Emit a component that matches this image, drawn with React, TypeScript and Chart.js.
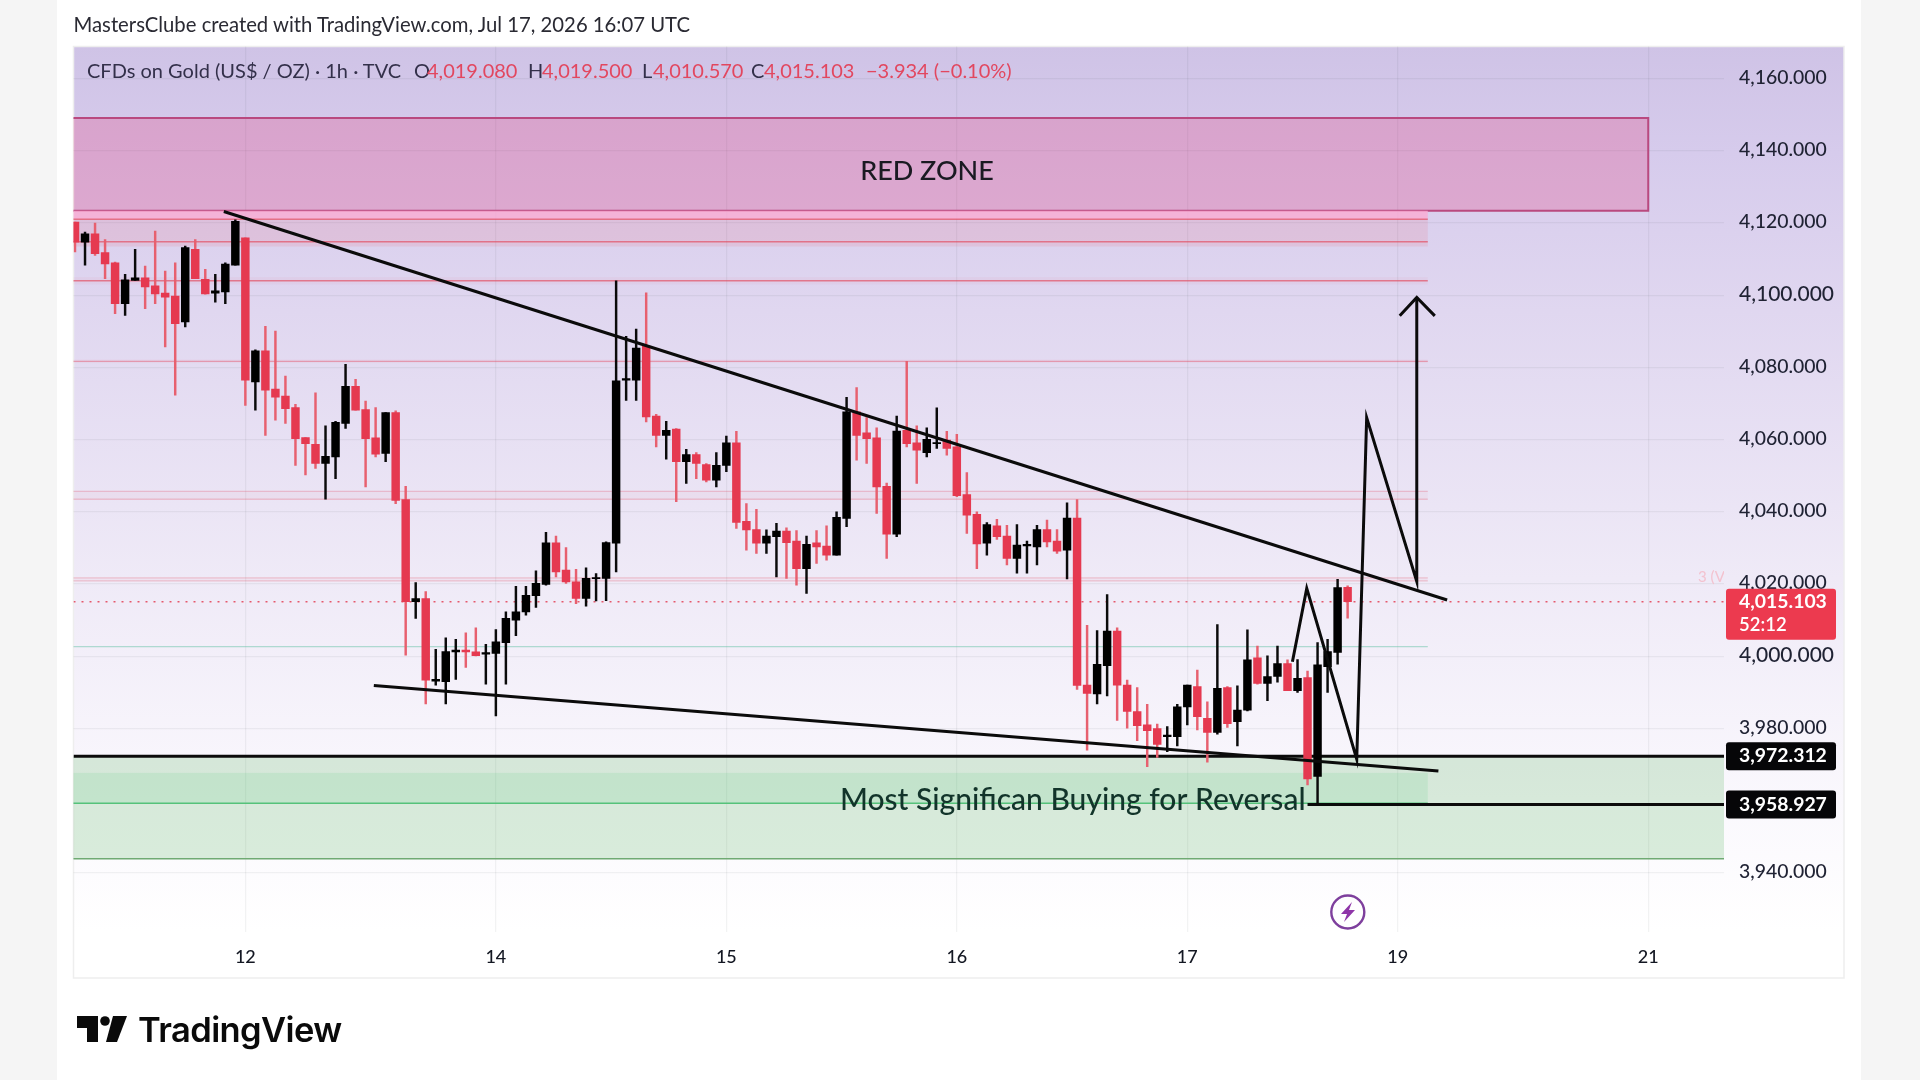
import React, { useEffect, useRef } from "react";
import { Chart, registerables } from "chart.js";

Chart.register(...registerables);

// ---------- data ----------
const opens = [
  4120.3,4114.7,4117.0,4111.8,4109.0,4097.7,4104.1,4104.8,4102.6,4100.6,
  4099.8,4092.6,4112.7,4104.4,4100.6,4100.9,4108.3,4115.9,4076.0,4084.6,
  4074.0,4072.1,4068.9,4060.6,4058.7,4053.4,4055.2,4064.5,4074.8,4068.3,
  4060.5,4056.2,4067.5,4043.4,4015.1,4016.0,3993.1,3993.0,4001.2,4001.7,
  4001.2,4000.6,4000.8,4003.8,4010.0,4012.3,4016.8,4019.9,4031.4,4023.9,
  4020.6,4016.0,4021.5,4021.6,4031.3,4076.5,4076.5,4085.9,4066.5,4061.2,
  4062.9,4053.9,4055.9,4053.1,4048.8,4052.9,4059.1,4037.4,4035.1,4031.3,
  4033.1,4034.7,4031.9,4024.3,4031.4,4030.5,4028.0,4038.2,4067.7,4061.9,
  4060.5,4047.1,4033.8,4062.6,4059.1,4056.4,4058.9,4059.9,4058.0,4044.8,
  4039.3,4031.3,4036.1,4033.3,4027.1,4030.6,4030.3,4035.1,4031.9,4029.4,
  4038.3,3992.0,3989.6,3997.4,4007.0,3992.0,3984.7,3981.0,3980.0,3977.7,
  3977.7,3986.0,3991.6,3982.8,3978.9,3991.3,3981.9,3985.1,3999.6,3992.5,
  3994.4,3998.0,3990.5,3994.1,3966.7,3997.1,4001.1,4019.08,
];
const closes = [
  4114.7,4117.0,4111.5,4108.7,4097.7,4104.3,4104.8,4102.3,4100.4,4099.5,
  4092.1,4113.2,4104.6,4100.4,4101.2,4108.6,4120.5,4076.5,4084.6,4073.7,
  4071.8,4068.6,4060.3,4058.9,4053.4,4055.4,4064.8,4074.8,4068.2,4060.3,
  4056.0,4067.5,4043.2,4015.1,4016.0,3993.4,3993.6,4001.3,4001.7,4001.2,
  4000.2,4001.0,4004.0,4010.5,4012.3,4016.9,4020.2,4031.4,4023.4,4020.6,
  4016.0,4021.6,4021.8,4031.5,4076.3,4076.9,4085.4,4066.3,4061.2,4062.6,
  4053.9,4055.9,4053.4,4048.8,4052.9,4059.1,4037.1,4035.0,4031.3,4033.3,
  4034.7,4031.5,4024.3,4031.0,4030.3,4028.0,4038.5,4067.7,4061.2,4060.3,
  4046.9,4033.8,4062.4,4058.9,4057.1,4060.1,4059.2,4057.6,4044.5,4039.1,
  4031.1,4036.5,4033.1,4027.1,4030.8,4031.0,4035.1,4031.7,4029.1,4038.3,
  3991.9,3989.7,3997.8,4007.0,3992.0,3984.7,3980.8,3979.4,3975.6,3978.2,
  3986.0,3992.0,3983.3,3978.9,3991.1,3981.3,3985.1,3999.0,3992.5,3994.4,
  3998.0,3990.5,3993.9,3966.0,3997.6,4001.3,4019.0,4015.103,
];
const highs = [
  4120.3,4117.5,4120.0,4115.4,4109.2,4105.8,4112.7,4108.1,4117.8,4106.7,
  4109.0,4113.6,4115.4,4107.2,4105.8,4109.0,4120.9,4115.9,4084.9,4091.4,
  4090.1,4077.6,4069.8,4060.6,4073.0,4063.8,4065.1,4080.9,4076.7,4070.7,
  4068.9,4067.5,4068.0,4047.1,4020.4,4017.9,4001.9,4005.1,4004.7,4006.5,
  4007.9,4003.3,4007.4,4012.3,4019.4,4019.4,4023.7,4034.3,4033.3,4030.1,
  4024.1,4024.5,4022.9,4031.7,4104.0,4088.6,4090.6,4100.7,4067.0,4065.1,
  4063.1,4057.3,4056.4,4053.4,4056.4,4061.0,4062.3,4042.3,4040.7,4035.0,
  4036.8,4035.6,4034.8,4033.3,4034.8,4036.1,4040.0,4071.7,4074.4,4066.1,
  4063.3,4048.0,4066.5,4081.7,4063.8,4063.3,4068.8,4062.3,4061.5,4050.9,
  4040.0,4037.0,4037.9,4036.3,4036.5,4031.9,4036.3,4037.7,4035.1,4042.5,
  4043.4,4008.6,4007.1,4017.1,4007.9,3993.4,3991.3,3986.7,3981.2,3980.5,
  3986.7,3992.0,3996.2,3987.4,4008.8,3991.6,3991.8,4007.3,4002.8,4000.1,
  4002.8,3999.0,3999.1,3995.9,4003.8,4004.7,4021.3,4019.5,
];
const lows = [
  4112.0,4108.3,4111.0,4104.6,4094.9,4094.4,4104.1,4096.3,4097.7,4085.7,
  4072.3,4091.2,4104.6,4100.3,4098.1,4097.7,4108.3,4069.5,4068.2,4061.2,
  4065.4,4064.5,4052.9,4050.2,4052.0,4043.5,4049.2,4063.1,4068.2,4046.9,
  4055.2,4053.9,4042.3,4000.3,4010.5,3986.8,3992.0,3986.8,3993.6,3996.9,
  4000.1,3992.3,3983.5,3992.3,4005.7,4011.4,4013.5,4019.7,4022.0,4020.2,
  4014.6,4013.9,4015.3,4015.4,4023.4,4070.9,4070.9,4064.9,4058.0,4054.6,
  4042.8,4047.9,4049.2,4048.3,4046.9,4051.1,4035.4,4029.4,4028.5,4028.5,
  4022.0,4021.6,4019.7,4017.4,4025.7,4026.6,4028.0,4035.9,4054.3,4053.4,
  4039.6,4027.1,4033.1,4058.0,4047.9,4055.2,4057.6,4055.7,4044.2,4034.0,
  4024.3,4028.0,4032.4,4025.3,4023.0,4023.0,4025.3,4030.3,4028.5,4021.4,
  3990.8,3974.0,3986.8,3989.0,3982.2,3980.1,3976.6,3969.4,3972.0,3973.6,
  3975.2,3981.0,3979.6,3970.7,3978.4,3980.3,3975.2,3984.9,3992.3,3987.7,
  3992.8,3990.5,3990.0,3964.4,3959.1,3990.0,3997.8,4010.57,
];

const priceTicks = [3940, 3980, 4000, 4020, 4040, 4060, 4080, 4100, 4120, 4140, 4160];
const majorPriceTicks = [4000, 4100];
const timeTickIndex = [17, 42, 65, 88, 111, 132, 157];
const timeTickLabels = ["12", "14", "15", "16", "17", "19", "21"];

const lastPrice = 4015.103;
const supportPrice = 3972.312;
const lowerPrice = 3958.927;

const upperTrendX = [14.85, 136.93];
const upperTrendY = [4123.2, 4015.6];
const lowerTrendX = [29.82, 136.06];
const lowerTrendY = [3991.9, 3968.2];
const zigzagX = [121.49, 122.92, 127.91, 128.9, 133.9, 133.9];
const zigzagY = [3998.5, 4018.8, 3971.5, 4066.1, 4020.7, 4099.4];
const arrowHeadX = [132.2, 133.9, 135.7];
const arrowHeadY = [4094.3, 4099.4, 4094.3];

const redZone = { top: 4149.1, bottom: 4123.4, endIndex: 157 };
const pinkBandBright = { top: 4123.4, bottom: 4121.05 };
const pinkBand = { top: 4121.05, bottom: 4113.5 };
const paleBands = [
  [4105, 4103],
  [4082.2, 4081.2],
  [4045.7, 4043.5],
  [4021.7, 4020.9],
];
const redLevels = [4121.05, 4114.8, 4104];
const softRedLevels = [4081.7];
const paleRedLevels = [4045.7, 4043.5, 4021.7, 4020.9];
const tealLevel = 4002.7;
const zoneEndIndex = 135;
const greenZone = { top: supportPrice, bottom: 3943.9 };
const greenInner = { top: 3967.7, bottom: 3959.3 };
const lowerLevelStart = 123;

const titleText = "MastersClube created with TradingView.com, Jul 17, 2026 16:07 UTC";
const legendParts: [string, number, string][] = [
  ["CFDs on Gold (US$ / OZ) · 1h · TVC", 87, "#33304a"],
  ["O", 414, "#33304a"],
  ["4,019.080", 427, "#e2475f"],
  ["H", 528, "#33304a"],
  ["4,019.500", 542, "#e2475f"],
  ["L", 642, "#33304a"],
  ["4,010.570", 653, "#e2475f"],
  ["C", 751, "#33304a"],
  ["4,015.103", 764, "#e2475f"],
  ["−3.934 (−0.10%)", 866, "#e2475f"],
];

const FONT = "Lato, 'Open Sans', sans-serif";
const RED = "#e53950";

export default function App() {
  const ref = useRef<HTMLCanvasElement | null>(null);

  useEffect(() => {
    if (!ref.current) return;
    const idx = opens.map((_, i) => i);
    const pairs = (xs: number[], ys: number[]) => xs.map((x, i) => ({ x, y: ys[i] }));
    const isDown = (i: number) => closes[i] < opens[i];

    const lineDs = (data: any[], extra: any = {}) => ({
      type: "line",
      data,
      borderColor: "#0b0b0b",
      borderWidth: 3,
      pointRadius: 0,
      tension: 0,
      fill: false,
      order: 1,
      ...extra,
    });

    const zonesPlugin = {
      id: "zones",
      beforeDraw(chart: any) {
        const { ctx, chartArea: a } = chart;
        ctx.save();
        const g = ctx.createLinearGradient(0, 46, 0, a.bottom);
        g.addColorStop(0, "#cfc3e6");
        g.addColorStop(0.12, "#d6cbec");
        g.addColorStop(0.3, "#e0d7f0");
        g.addColorStop(0.6, "#efeaf7");
        g.addColorStop(0.85, "#faf8fd");
        g.addColorStop(1, "#ffffff");
        ctx.fillStyle = g;
        ctx.fillRect(73.5, 46.5, 1770.5, a.bottom - 46.5);
        ctx.strokeStyle = "#eeeeee";
        ctx.lineWidth = 1.5;
        ctx.strokeRect(73.5, 46.5, 1770.5, 978 - 46.5);
        ctx.restore();
      },
      beforeDatasetsDraw(chart: any) {
        const { ctx, chartArea: a, scales } = chart;
        const x = scales.x;
        const y = scales.y;
        const endX = x.getPixelForValue(zoneEndIndex);
        const band = (top: number, bottom: number, x2: number, color: string) => {
          ctx.fillStyle = color;
          ctx.fillRect(a.left, y.getPixelForValue(top), x2 - a.left, y.getPixelForValue(bottom) - y.getPixelForValue(top));
        };
        const level = (p: number, x1: number, x2: number, color: string, w: number) => {
          ctx.strokeStyle = color;
          ctx.lineWidth = w;
          ctx.beginPath();
          ctx.moveTo(x1, y.getPixelForValue(p));
          ctx.lineTo(x2, y.getPixelForValue(p));
          ctx.stroke();
        };
        ctx.save();
        // red zone: open on the left, where it runs off the pane
        const rzRight = x.getPixelForValue(redZone.endIndex);
        const rzTop = y.getPixelForValue(redZone.top);
        const rzBottom = y.getPixelForValue(redZone.bottom);
        band(redZone.top, redZone.bottom, rzRight, "rgba(233,30,99,0.22)");
        ctx.strokeStyle = "#b9497f";
        ctx.lineWidth = 2;
        ctx.beginPath();
        ctx.moveTo(a.left, rzTop);
        ctx.lineTo(rzRight, rzTop);
        ctx.lineTo(rzRight, rzBottom);
        ctx.lineTo(a.left, rzBottom);
        ctx.stroke();
        // pink levels
        band(pinkBandBright.top, pinkBandBright.bottom, endX, "rgba(250,170,210,0.8)");
        band(pinkBand.top, pinkBand.bottom, endX, "rgba(242,54,69,0.10)");
        paleBands.forEach(([t, b]) => band(t, b, endX, "rgba(242,54,69,0.04)"));
        redLevels.forEach((p) => level(p, a.left, endX, "rgba(226,70,90,0.65)", 1.5));
        softRedLevels.forEach((p) => level(p, a.left, endX, "rgba(226,70,90,0.42)", 1.3));
        paleRedLevels.forEach((p) => level(p, a.left, endX, "rgba(226,70,90,0.25)", 1.3));
        level(tealLevel, a.left, endX, "rgba(90,190,160,0.45)", 1.3);
        // green zone
        band(greenZone.top, greenZone.bottom, a.right, "rgba(76,175,80,0.2)");
        band(greenInner.top, greenInner.bottom, endX, "rgba(60,200,110,0.12)");
        level(greenInner.bottom, a.left, endX, "#55c27a", 1.5);
        level(greenZone.bottom, a.left, a.right, "#6faa72", 1.5);
        // text on zones
        ctx.fillStyle = "#1a1a22";
        ctx.font = `500 27px ${FONT}`;
        ctx.textAlign = "center";
        ctx.textBaseline = "middle";
        ctx.fillText("RED ZONE", 927, 171);
        ctx.restore();
      },
      afterDatasetsDraw(chart: any) {
        const { ctx, chartArea: a } = chart;
        ctx.save();
        ctx.fillStyle = "#12342a";
        ctx.font = `500 30px ${FONT}`;
        ctx.textAlign = "left";
        ctx.textBaseline = "middle";
        ctx.fillText("Most Significan Buying for Reversal", 840, 800);
        ctx.fillStyle = "#f3c2cf";
        ctx.font = `400 15px ${FONT}`;
        ctx.beginPath();
        ctx.rect(a.left, a.top, a.right - a.left, a.bottom - a.top);
        ctx.clip();
        ctx.fillText("3 (V", 1698, 577);
        ctx.restore();
      },
      afterDraw(chart: any) {
        const { ctx, scales } = chart;
        const y = scales.y;
        const rr = (x: number, yy: number, w: number, h: number, color: string) => {
          ctx.fillStyle = color;
          ctx.beginPath();
          ctx.roundRect(x, yy, w, h, 3);
          ctx.fill();
        };
        ctx.save();
        ctx.textAlign = "left";
        ctx.textBaseline = "middle";
        const bx = 1726;
        const bw = 110;
        const py = y.getPixelForValue(lastPrice);
        rr(bx, py - 13, bw, 51, "#ec3a4f");
        ctx.fillStyle = "#ffffff";
        ctx.font = `700 19.4px ${FONT}`;
        ctx.fillText(lastPrice.toLocaleString("en-US", { minimumFractionDigits: 3 }), 1739, py);
        ctx.font = `600 18.5px ${FONT}`;
        ctx.fillText("52:12", 1739, py + 23);
        [supportPrice, lowerPrice].forEach((p) => {
          const c = y.getPixelForValue(p);
          rr(bx, c - 14, bw, 28, "#060608");
          ctx.fillStyle = "#ffffff";
          ctx.font = `700 19.4px ${FONT}`;
          ctx.fillText(p.toLocaleString("en-US", { minimumFractionDigits: 3 }), 1739, c);
        });
        ctx.restore();
      },
    };

    const chart = new Chart(ref.current, {
      type: "bar",
      data: {
        datasets: [
          lineDs(pairs([-0.15, 164.56], [lastPrice, lastPrice]), {
            borderColor: "#e5586c",
            borderWidth: 1.6,
            borderDash: [2, 6],
            order: 5,
          }),
          lineDs(pairs([-0.15, 164.56], [supportPrice, supportPrice]), { order: 4 }),
          lineDs(pairs([lowerLevelStart, 164.56], [lowerPrice, lowerPrice]), { order: 4 }),
          {
            type: "bar",
            data: idx.map((i) => ({ x: i, y: [lows[i], highs[i]] })),
            backgroundColor: idx.map((i) => (isDown(i) ? "#e7606f" : "#0a0a0a")),
            barThickness: 1.8,
            grouped: false,
            order: 3,
          },
          {
            type: "bar",
            data: idx.map((i) => ({ x: i, y: [opens[i], closes[i]] })),
            backgroundColor: idx.map((i) => (isDown(i) ? RED : "#000000")),
            barThickness: 7.8,
            grouped: false,
            order: 2,
          },
          lineDs(pairs(upperTrendX, upperTrendY)),
          lineDs(pairs(lowerTrendX, lowerTrendY)),
          lineDs(pairs(zigzagX, zigzagY)),
          lineDs(pairs(arrowHeadX, arrowHeadY)),
        ] as any,
      },
      options: {
        responsive: false,
        animation: false,
        layout: { padding: { left: 73.5, top: 46.5, right: 76, bottom: 102 } },
        plugins: { legend: { display: false }, title: { display: false }, tooltip: { enabled: false } },
        scales: {
          x: {
            type: "linear",
            offset: false,
            min: -0.15,
            max: 164.56,
            border: { display: false },
            grid: { color: "rgba(42,46,57,0.06)", drawTicks: false, lineWidth: 1.2, offset: false },
            afterBuildTicks(s: any) {
              s.ticks = timeTickIndex.map((v) => ({ value: v }));
            },
            afterFit(s: any) {
              s.height = 46;
            },
            ticks: {
              autoSkip: false,
              maxRotation: 0,
              padding: 14,
              color: "#131722",
              font: { family: FONT, size: 18, weight: "500" },
              callback: (v: any) => timeTickLabels[timeTickIndex.indexOf(Number(v))],
            },
          },
          y: {
            type: "linear",
            position: "right",
            min: 3923.63,
            max: 4168.9,
            border: { display: false },
            grid: { color: "rgba(42,46,57,0.06)", drawTicks: false, lineWidth: 1.2 },
            afterBuildTicks(s: any) {
              s.ticks = priceTicks.map((v) => ({ value: v }));
            },
            afterFit(s: any) {
              s.width = 120;
            },
            ticks: {
              autoSkip: false,
              padding: 15,
              labelOffset: -1,
              color: "#1f2233",
              font: (c: any) =>
                majorPriceTicks.includes(c.tick?.value)
                  ? { family: FONT, size: 21, weight: "500" }
                  : { family: FONT, size: 19.4, weight: "500" },
              callback: (v: any) => Number(v).toLocaleString("en-US", { minimumFractionDigits: 3 }),
            },
          },
        },
      } as any,
      plugins: [zonesPlugin as any],
    });
    return () => chart.destroy();
  }, []);

  return (
    <div style={{ position: "absolute", left: 0, top: 0, width: 1920, height: 1080, background: "#f5f5f5", overflow: "hidden" }}>
      <div style={{ position: "absolute", left: 57, top: 0, width: 1804, height: 1080, background: "#ffffff" }} />
      <canvas ref={ref} width={1920} height={1080} style={{ position: "absolute", left: 0, top: 0, width: 1920, height: 1080 }} />
      <div style={{ position: "absolute", left: 73.5, top: 13, fontFamily: FONT, fontSize: 20.3, lineHeight: "22px", color: "#2a2a33", whiteSpace: "nowrap" }}>
        {titleText}
      </div>
      {legendParts.map(([t, x, c]) => (
        <span key={t + x} style={{ position: "absolute", left: x, top: 59, fontFamily: FONT, fontSize: 20, lineHeight: "22px", color: c, whiteSpace: "nowrap" }}>
          {t}
        </span>
      ))}
      <svg width={1920} height={1080} style={{ position: "absolute", left: 0, top: 0, pointerEvents: "none" }}>
        <ellipse cx={1347.8} cy={912} rx={16.5} ry={16.5} fill="none" stroke="#7e3f9d" strokeWidth={2.4} />
        <polygon points="1352,902 1341,914 1347,914 1344,922 1355,910 1349,910" fill="#8e35a8" />
        <polygon points="77,1016 98,1016 98,1042 87,1042 87,1028 77,1028" fill="#0a0a0a" />
        <circle cx={105} cy={1021} r={4.8} fill="#0a0a0a" />
        <polygon points="113,1016 127,1016 117,1042 106,1042" fill="#0a0a0a" />
      </svg>
      <div style={{ position: "absolute", left: 138, top: 1006, fontFamily: "Inter, sans-serif", fontWeight: 600, fontSize: 34.5, lineHeight: "48px", color: "#0a0a0a", whiteSpace: "nowrap", letterSpacing: -0.6 }}>
        TradingView
      </div>
    </div>
  );
}
